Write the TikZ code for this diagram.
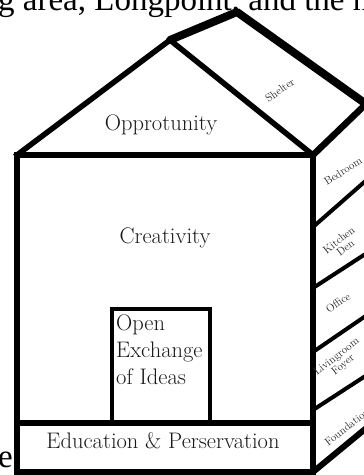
\documentclass[tikz,border=0pt]{standalone}
\usepackage{fontspec}
\newfontfamily\pagefont{Liberation Serif}
\begin{document}
\begin{tikzpicture}[x=1pt,y=-1pt,
  wall/.style={line width=5.5pt, line join=miter, line cap=rect},
  heavy/.style={line width=8pt, line join=round, line cap=round},
  seam/.style={line width=4pt},
  doorline/.style={line width=3.5pt},
  room/.style={font=\fontsize{22.5}{27}\selectfont, text=black!90, inner sep=0pt},
  tag/.style={font=\fontsize{11}{10.5}\selectfont, text=black!85, align=center, inner sep=0pt},
  pagetext/.style={font=\pagefont\fontsize{33}{34}\selectfont, inner sep=0pt}]
\useasboundingbox (0,0) rectangle (364,475);
\clip (0,0) rectangle (364,475);

% key points of the house
\coordinate (eaveL) at (17,155);
\coordinate (apex)  at (170,40);
\coordinate (ridge) at (237,12);
\coordinate (far)   at (366,104);
\coordinate (eaveR) at (313,155);
\coordinate (baseR) at (313,472);
\coordinate (eduL)  at (17,423);
\coordinate (eduR)  at (313,423);
\coordinate (doorBL) at (112,423);
\coordinate (doorTL) at (112,309);
\coordinate (doorTR) at (210,309);
\coordinate (doorBR) at (210,423);

% roof in depth
\draw[heavy] (apex) -- (ridge) -- (far);
\draw[line width=6.5pt, line cap=round] (far) -- (eaveR);
% gable and front wall
\draw[wall] (eaveL) -- (apex) -- (eaveR);
\draw[wall] (eaveL) rectangle (baseR);
\draw[wall] (eduL) -- (eduR);
% door
\draw[doorline] (doorBL) -- (doorTL) -- (doorTR) -- (doorBR);

% side wall seams
\coordinate (s1a) at (313,227); \coordinate (s1b) at (370,177);
\coordinate (s2a) at (313,288); \coordinate (s2b) at (370,251);
\coordinate (s3a) at (313,352); \coordinate (s3b) at (370,313);
\coordinate (s4a) at (313,410); \coordinate (s4b) at (370,373);
\coordinate (s5a) at (313,472); \coordinate (s5b) at (370,425);
\draw[seam] (s1a) -- (s1b);
\draw[seam] (s2a) -- (s2b);
\draw[seam] (s3a) -- (s3b);
\draw[seam] (s4a) -- (s4b);
\draw[line width=6pt] (s5a) -- (s5b);

% room names
\node[room, anchor=base] (opp) at (161,130) {Opprotunity};
\node[room, anchor=base] (cre) at (165,243) {Creativity};
\node[room, anchor=north west, align=left] (ideas) at (116,315) {Open\\Exchange\\of Ideas};
\node[room, anchor=base] (edu) at (163,448) {Education \& Perservation};

% side labels
\node[tag, rotate=35] (shelter) at (280,90) {Shelter};
\node[tag, rotate=33] (bed) at (343,171) {Bedroom};
\node[tag, rotate=38] (kitchen) at (342,244) {Kitchen\\Den};
\node[tag, rotate=35] (office) at (338,303) {Office};
\node[tag, rotate=38] (living) at (340,361) {Livingroom\\Foyer};
\node[tag, rotate=38] (found) at (347,427) {Foundation};

% surrounding page text
\node[pagetext, anchor=base west] (line) at (-2,10) {g area, Longpoint, and the n};
\node[pagetext, anchor=base west] (tail) at (-2,467) {e};
\end{tikzpicture}
\end{document}
